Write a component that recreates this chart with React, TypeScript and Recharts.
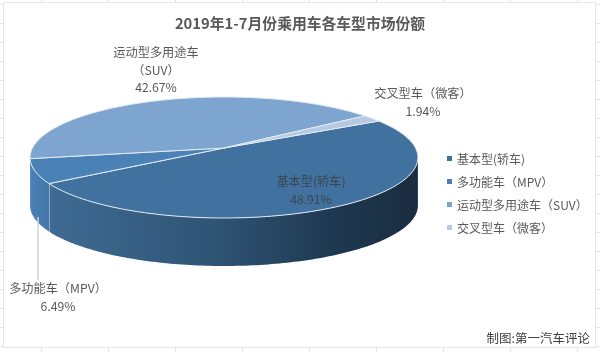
import { PieChart, Pie, Legend } from 'recharts'

const categories = ['基本型(轿车)', '多功能车（MPV）', '运动型多用途车（SUV）', '交叉型车（微客）']
const shares = [48.91, 6.49, 42.67, 1.94]
const colors = ['#41729f', '#4a82b8', '#7ea4d0', '#b4c9e4']
const labelLines = [['基本型(轿车)'], ['多功能车（MPV）'], ['运动型多用途车', '（SUV）'], ['交叉型车（微客）']]
const percentLabels = ['48.91%', '6.49%', '42.67%', '1.94%']

const tableData = categories.map((name, i) => ({ name, value: shares[i], fill: colors[i] }))

const FONT = '"Noto Sans CJK SC", "Noto Sans", sans-serif'
const TEXT = '#595959'

// the pie is tilted with some perspective, so the centre sits above the middle of the ellipse
const CX = 224
const CY = 148
const RX = 191.5
const RY = 59
const PERSP = 0.157
const DEPTH = 48

// angle in degrees, recharts convention (counter-clockwise, y up)
const project = (deg: number, dy = 0) => {
  const a = (deg * Math.PI) / 180
  const u = Math.cos(a)
  const v = -Math.sin(a)
  const w = 1 - PERSP * v
  return [CX + (RX * u) / w, CY + dy + (RY * v) / w]
}

const arcPoints = (from: number, to: number, dy = 0) => {
  const n = Math.max(2, Math.ceil(Math.abs(to - from)))
  const pts: number[][] = []
  for (let i = 0; i <= n; i++) pts.push(project(from + ((to - from) * i) / n, dy))
  return pts
}

const toPath = (pts: number[][]) =>
  pts.map((p, i) => `${i ? 'L' : 'M'}${p[0].toFixed(2)} ${p[1].toFixed(2)}`).join(' ')

const wallId = (i: number) => `wall-${i}`

const TiltedSector = (props: any) => {
  const { startAngle, endAngle, fill, index } = props
  // only the front part of the rim is visible
  const wallFrom = Math.min(startAngle, -9)
  const wallTo = Math.max(endAngle, -171)
  const hasWall = wallFrom > wallTo
  const top = arcPoints(wallFrom, wallTo)
  const bottom = arcPoints(wallTo, wallFrom, DEPTH)
  const rim = arcPoints(startAngle, endAngle)
  const sector = toPath([[CX, CY], ...rim]) + ' Z'
  return (
    <g>
      {hasWall && (
        <>
          <defs>
            <linearGradient id={wallId(index)} gradientUnits="userSpaceOnUse" x1={index === 0 ? 48 : 30} x2={index === 0 ? 418 : 48} y1={0} y2={0}>
              {index === 0 ? (
                <>
                  <stop offset="0" stopColor="#3f6b94" />
                  <stop offset="0.45" stopColor="#2f5474" />
                  <stop offset="0.75" stopColor="#1f3a53" />
                  <stop offset="1" stopColor="#1a2c3e" />
                </>
              ) : (
                <>
                  <stop offset="0" stopColor="#4a80b6" />
                  <stop offset="1" stopColor="#4578aa" />
                </>
              )}
            </linearGradient>
          </defs>
          <path d={toPath([...top, ...bottom]) + ' Z'} fill={`url(#${wallId(index)})`} stroke="none" />
          {index === 0 && (
            <path d={toPath([project(endAngle), project(endAngle, DEPTH)])} stroke="#d5dde6" strokeWidth={1} fill="none" />
          )}
        </>
      )}
      <path d={sector} fill={fill} stroke="#e4ebf3" strokeWidth={1} strokeLinejoin="round" />
    </g>
  )
}

const labelSpots = [
  { x: 311, y: 186 },
  { x: 58, y: 293 },
  { x: 156, y: 57 },
  { x: 423, y: 98 },
]

const SliceLabel = ({ index }: any) => {
  const spot = labelSpots[index]
  const lines = [...labelLines[index], percentLabels[index]]
  return (
    <g>
      {index === 1 && <line x1={38} y1={217} x2={38} y2={280} stroke="#d4d4d4" strokeWidth={1.5} />}
      <text x={spot.x} y={spot.y} textAnchor="middle" fontFamily={FONT} fontSize={12.2} fill={index === 0 ? '#3d4650' : TEXT}>
        {lines.map((t, i) => (
          <tspan key={i} x={spot.x} dy={i === 0 ? 0 : 17.5}>
            {t}
          </tspan>
        ))}
      </text>
    </g>
  )
}

const LegendList = ({ payload }: any) => (
  <div style={{ fontFamily: FONT, fontSize: 12, color: TEXT }}>
    {(payload ?? []).map((entry: any) => (
      <div key={entry.value} style={{ display: 'flex', alignItems: 'center', height: 23, whiteSpace: 'nowrap' }}>
        <span style={{ width: 5, height: 5, background: entry.color, marginRight: 5 }} />
        {entry.value}
      </div>
    ))}
  </div>
)

export default function App() {
  return (
    <div
      style={{
        position: 'absolute',
        left: 0,
        top: 0,
        width: 600,
        height: 352,
        overflow: 'hidden',
        filter: 'blur(0.35px)',
        background:
          'repeating-linear-gradient(90deg, transparent 0 41px, #e4e4e4 41px 42px, transparent 42px 67px), repeating-linear-gradient(180deg, transparent 0 4px, #e4e4e4 4px 5px, transparent 5px 19px), #fff',
      }}
    >
      <div
        style={{
          position: 'absolute',
          left: 3,
          top: 2,
          width: 591,
          height: 344,
          background: '#fff',
          border: '1.5px solid #e6e6e6',
        }}
      />
      <div style={{ position: 'absolute', left: 0, top: 0 }}>
        <PieChart width={600} height={352}>
          <text x={300} y={29} textAnchor="middle" fontFamily={FONT} fontSize={14.8} fontWeight={700} fill={TEXT}>
            2019年1-7月份乘用车各车型市场份额
          </text>
          <Pie
            data={tableData}
            dataKey="value"
            nameKey="name"
            cx={CX}
            cy={CY}
            outerRadius={RX}
            startAngle={29.5}
            endAngle={-330.5}
            paddingAngle={0}
            shape={TiltedSector}
            label={SliceLabel}
            labelLine={false}
            isAnimationActive={false}
          />
          <Legend
            layout="vertical"
            itemSorter={null}
            content={<LegendList />}
            wrapperStyle={{ left: 447, top: 147, width: 150 }}
          />
          <text x={590} y={343} textAnchor="end" fontFamily={FONT} fontSize={12.5} fill="#404040">
            制图:第一汽车评论
          </text>
        </PieChart>
      </div>
    </div>
  )
}
